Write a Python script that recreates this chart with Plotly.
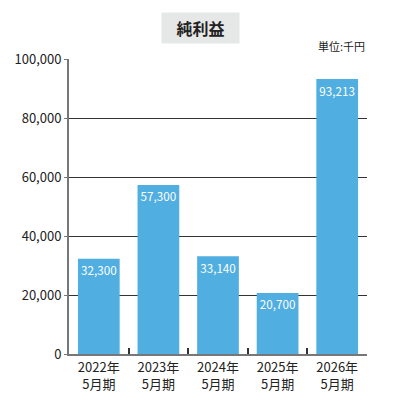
import plotly.graph_objects as go

categories = ["2022年<br>5月期", "2023年<br>5月期", "2024年<br>5月期", "2025年<br>5月期", "2026年<br>5月期"]
values = [32300, 57300, 33140, 20700, 93213]
labels = ["32,300", "57,300", "33,140", "20,700", "93,213"]
tick_vals = [0, 20000, 40000, 60000, 80000, 100000]
tick_text = ["0", "20,000", "40,000", "60,000", "80,000", "100,000"]

FONT = "Noto Sans CJK JP"

fig = go.Figure()
fig.add_trace(go.Bar(
    x=categories, y=values, text=labels,
    textposition="inside", insidetextanchor="end", textangle=0,
    textfont=dict(color="white", size=13, family=FONT),
    marker=dict(color="#50AEE0", line=dict(width=0)),
    width=0.7,
))
fig.update_layout(
    width=401, height=401,
    margin=dict(l=69, r=34, t=59, b=47, autoexpand=False),
    paper_bgcolor="white", plot_bgcolor="white",
    showlegend=False,
    font=dict(family=FONT, size=13, color="#222"),
)
fig.update_xaxes(
    automargin=False,
    showline=True, linecolor="#777", linewidth=2,
    tickson="boundaries", ticks="inside", ticklen=6, tickcolor="#333", tickwidth=1.5,
    showgrid=False, tickfont=dict(size=13, color="#222"),
)
fig.update_yaxes(
    automargin=False,
    range=[0, 100000], tickvals=tick_vals, ticktext=tick_text,
    showline=True, linecolor="#777", linewidth=2,
    ticks="outside", ticklen=3, tickcolor="#777",
    showgrid=True, gridcolor="#333", gridwidth=1,
    zeroline=False, tickfont=dict(size=13, color="#222"),
)
fig.add_annotation(
    xref="x domain", yref="y domain", x=0.441, y=1.105, xanchor="center", yanchor="middle",
    text="<b>純利益</b>", width=67, height=20,
    showarrow=False, font=dict(size=16, color="#222", family=FONT),
    bgcolor="#E6E7E7", borderpad=5,
)
fig.add_annotation(
    xref="x domain", yref="y domain", x=1.0, y=1.01, xanchor="right", yanchor="bottom",
    text="単位:千円", showarrow=False, font=dict(size=11, color="#222", family=FONT),
)
fig.write_html("out.html", config={"displayModeBar": False},
               post_script="document.body.style.margin='0px';")
